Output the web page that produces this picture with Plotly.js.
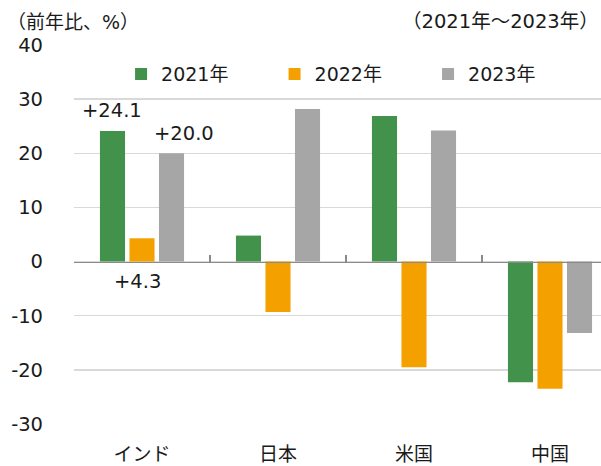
<!DOCTYPE html>
<html>
<head>
<meta charset="utf-8">
<script src="https://cdn.plot.ly/plotly-3.0.1.min.js"></script>
<style>html,body{margin:0;padding:0;background:#fff;}#chart{width:601px;height:466px;}</style>
</head>
<body>
<div id="chart"></div>
<script>
const categories = ["インド", "日本", "米国", "中国"];
const seriesNames = ["2021年", "2022年", "2023年"];
const values2021 = [24.1, 4.8, 26.9, -22.3];
const values2022 = [4.3, -9.3, -19.5, -23.5];
const values2023 = [20.0, 28.2, 24.2, -13.2];
const yTicks = [-30, -20, -10, 0, 10, 20, 30, 40];
const colors = ["#43924B", "#F4A100", "#A6A6A6"];

const FONT = "'DejaVu Sans', 'Noto Sans CJK JP', sans-serif";
const allValues = [values2021, values2022, values2023];

const traces = allValues.map((vals, i) => ({
  type: "bar",
  name: seriesNames[i],
  x: categories,
  y: vals,
  marker: {color: colors[i]},
  hoverinfo: "skip"
}));
// empty trace so the zero-line axis with boundary ticks is drawn
traces.push({type: "scatter", x: [], y: [], xaxis: "x2", yaxis: "y", showlegend: false, hoverinfo: "skip"});

const fmt = v => (v > 0 ? "+" : "") + v.toFixed(1);
const annotations = [
  {xref: "x", yref: "y", x: categories[0], y: values2021[0], text: fmt(values2021[0]), xshift: -30, yshift: 21},
  {xref: "x", yref: "y", x: categories[0], y: values2023[0], text: fmt(values2023[0]), xshift: 42, yshift: 20},
  {xref: "x", yref: "y", x: categories[0], y: 0, text: fmt(values2022[0]), xshift: -5, yshift: -20}
].map(a => Object.assign({showarrow: false, xanchor: "center", yanchor: "middle", font: {family: FONT, size: 19.5, color: "#1a1a1a"}}, a));

annotations.push({xref: "paper", yref: "paper", x: -0.131, y: 1.0615, xanchor: "left", yanchor: "middle",
  text: "（前年比、%）", showarrow: false, font: {family: FONT, size: 19, color: "#1a1a1a"}});
annotations.push({xref: "paper", yref: "paper", x: 1, y: 1.0615, xanchor: "right", yanchor: "middle",
  text: "（2021年～2023年）", showarrow: false, font: {family: FONT, size: 19.5, color: "#1a1a1a"}});

const layout = {
  width: 601, height: 466,
  margin: {l: 74, r: 0, t: 45, b: 42, pad: 0},
  paper_bgcolor: "#fff", plot_bgcolor: "#fff",
  font: {family: FONT, size: 19, color: "#1a1a1a"},
  barmode: "group",
  bargap: 0.349,
  bargroupgap: 0.15,
  showlegend: true,
  legend: {orientation: "h", x: 0.0893, xanchor: "left", y: 0.923, yanchor: "middle",
    entrywidth: 108.5, entrywidthmode: "pixels", bgcolor: "rgba(0,0,0,0)",
    font: {family: FONT, size: 19, color: "#1a1a1a"}, traceorder: "normal"},
  xaxis: {type: "category", categoryarray: categories, range: [-0.5, 3.375], showgrid: false, showline: false,
    zeroline: false, ticks: "", ticklabelstandoff: 17, tickfont: {family: FONT, size: 19, color: "#1a1a1a"}, fixedrange: true},
  xaxis2: {overlaying: "x", anchor: "free", position: 30/70, type: "linear", range: [-0.5, 3.375],
    tickvals: [-0.5, 0.5, 1.5, 2.5, 3.5], ticks: "inside", ticklen: 7, tickwidth: 1.5, tickcolor: "#8a8a8a",
    showline: true, linecolor: "#8a8a8a", linewidth: 1.5, showticklabels: false, showgrid: false, zeroline: false, fixedrange: true},
  yaxis: {range: [-30, 40], tickvals: yTicks, ticktext: yTicks.map(String), showgrid: true, gridcolor: "#d9d9d9", gridwidth: 1.5,
    zeroline: false, showline: false, ticks: "", ticklabelstandoff: 30, tickfont: {family: FONT, size: 19.5, color: "#1a1a1a"}, fixedrange: true},
  annotations: annotations
};

Plotly.newPlot("chart", traces, layout, {displayModeBar: false, staticPlot: true});
</script>
</body>
</html>
